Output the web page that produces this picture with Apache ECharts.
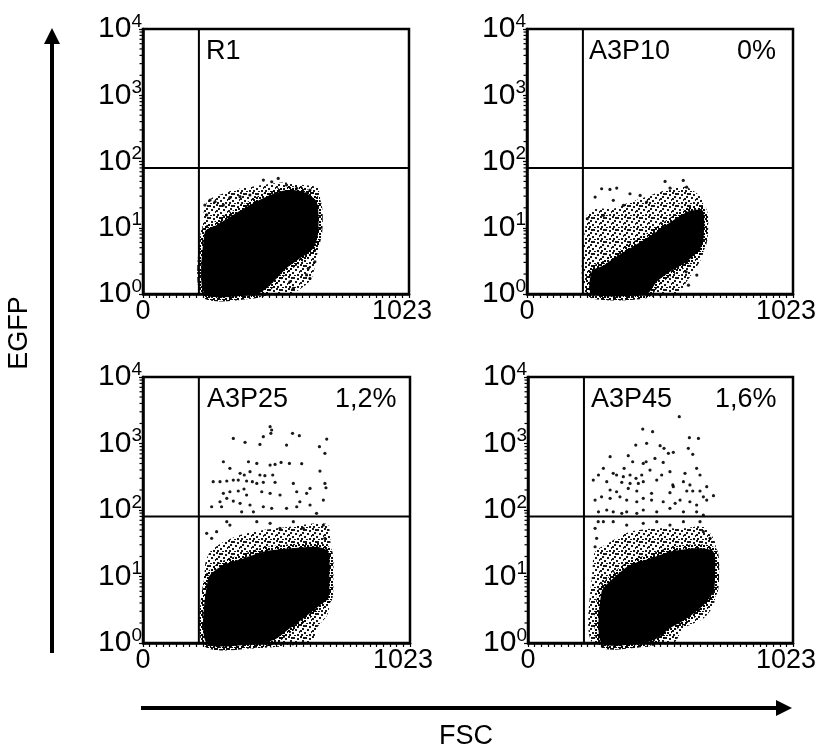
<!DOCTYPE html>
<html><head><meta charset="utf-8">
<script src="https://cdn.jsdelivr.net/npm/echarts@6/dist/echarts.min.js"></script>
<style>html,body{margin:0;padding:0;background:#fff}#c{width:821px;height:749px}</style>
</head><body><div id="c"></div>
<script>
// ---------------- data ----------------
const panelNames = ['R1', 'A3P10', 'A3P25', 'A3P45'];
const panelPercents = ['', '0%', '1,2%', '1,6%'];
const fscRange = [0, 1023];          // x axis (FSC, linear channels)
const egfpRange = [1, 10000];        // y axis (EGFP, log)
const gateFSC = [215, 215, 214, 216];
const gateEGFP = [80, 80, 80, 80];
const axisTitleX = 'FSC';
const axisTitleY = 'EGFP';

// dense core outline of each event cloud  [FSC, EGFP]
const core1 = [[238,1],[238,8.7],[283,11],[347,15.6],[411,22],[475,29.4],[552,37],[616,35],[668,24.7],[674,8.7],[655,4.9],[604,3.45],[552,2.44],[514,1.72],[475,1.22],[437,1]];
const core2 = [[249,1],[249,2.2],[294,2.7],[332,3.4],[384,4.6],[448,6.5],[512,9.5],[576,14],[627,18],[676,18],[680,7.7],[666,4.86],[614,3.06],[550,2.16],[499,1.53],[460,1]];
const core3 = [[244,1],[250,9.4],[308,14.9],[384,18.7],[461,23.6],[563,26.5],[665,28],[710,23.6],[714,9.4],[710,4.7],[678,3.7],[614,2.34],[563,1.66],[512,1.17],[461,1]];
const core4 = [[284,1],[284,5.9],[329,9.4],[394,14.9],[471,18.7],[548,23.6],[651,26.5],[716,23.6],[722,9.4],[716,5.9],[677,3.7],[613,2.34],[548,1.66],[497,1.17],[445,1]];

// sparser halo outline around each cloud
const halo1 = [[232,1],[232,15.6],[251,26],[309,33],[373,39],[475,45],[540,48],[616,44],[674,39],[683,9.8],[674,4.9],[649,1.72],[616,1.29],[565,1]];
const halo2 = [[230,1],[230,15.4],[268,19.4],[332,19.4],[396,24.4],[473,30.8],[550,38.8],[614,41],[672,27.4],[685,9.7],[676,3.86],[640,2.16],[614,1.53],[576,1]];
const halo3 = [[238,1],[238,14.9],[257,23.6],[308,33],[372,42],[461,50],[563,56],[665,63],[710,59],[719,23.6],[719,4.7],[706,2.64],[665,1.66],[646,1]];
const halo4 = [[250,1],[250,14.9],[259,23.6],[317,33],[394,47],[497,53],[600,53],[677,56],[722,33],[728,7.4],[716,3.7],[677,2.34],[600,1.66],[561,1]];

// individual scattered events
const dots1 = [[258,26.2],[277,24.7],[309,22],[334,28.4],[373,29.4],[411,31.2],[463,52.5],[495,49.5],[520,55.6],[552,44.2],[591,39.4],[629,33],[642,37],[238,22],[245,15.6],[629,1.94],[642,1.72],[636,2.44],[661,3.07],[681,9.8],[565,1.53],[578,1.22]];
const dots2 = [[262,29],[287,38.8],[319,37.9],[345,39.7],[396,32.6],[332,25.9],[531,50],[601,51.8],[614,41],[550,39.7],[435,30.8],[460,24.4],[621,1.36],[612,2.16],[653,1.93],[232,13.7],[294,15.4],[371,21.8]];
const dots3 = [[487,1790],[493,1596],[490,1420],[461,1265],[573,1420],[599,1310],[704,1167],[346,1194],[391,1040],[448,970],[550,948],[676,895],[697,711],[308,532],[404,532],[436,502],[487,474],[506,485],[529,520],[561,502],[608,497],[678,385],[333,423],[372,356],[388,336],[410,377],[448,336],[467,328],[497,336],[269,267],[295,267],[321,273],[346,282],[365,282],[397,273],[419,267],[436,251],[461,261],[506,261],[576,251],[640,211],[697,251],[701,216],[308,178],[333,188],[365,193],[387,207],[397,168],[455,188],[487,178],[525,168],[589,188],[627,178],[691,141],[295,133],[321,150],[346,136],[372,126],[410,119],[423,94],[461,112],[493,106],[550,106],[601,133],[640,119],[589,112],[301,112],[263,112],[378,94],[665,89],[244,44.6],[282,47.2],[333,59.4],[321,66.7],[436,66.7],[487,63],[525,53],[576,66.7],[614,53],[691,59.4],[697,37.5],[263,37.5]];
const dots4 = [[584,2530],[443,1650],[481,1505],[623,1222],[658,1194],[416,948],[458,1005],[510,927],[525,845],[542,711],[561,736],[619,845],[636,687],[387,656],[317,634],[456,532],[445,502],[490,597],[522,520],[404,532],[371,423],[291,423],[329,356],[342,336],[368,317],[394,336],[417,299],[439,336],[445,267],[471,399],[516,336],[548,377],[606,356],[651,423],[664,336],[272,336],[252,282],[304,267],[362,261],[394,251],[426,251],[497,282],[561,224],[600,267],[625,238],[690,224],[559,238],[317,200],[342,188],[387,211],[420,193],[477,178],[548,182],[613,193],[636,193],[664,193],[677,158],[716,164],[259,141],[284,158],[317,150],[355,158],[381,141],[420,133],[445,150],[477,141],[522,133],[568,126],[587,141],[625,133],[651,119],[690,141],[272,94],[304,100],[329,94],[362,89],[381,94],[420,89],[445,100],[497,94],[548,106],[600,94],[651,94],[677,84],[259,53],[265,37.5],[259,28],[291,66.7],[329,66.7],[381,59.4],[445,63],[497,66.7],[548,59.4],[600,66.7],[664,66.7],[677,47.2],[703,37.5],[271,66.7]];

// ---------------- chart ----------------
const FONT = '"Liberation Sans", Arial, Helvetica, sans-serif';
const cores = [core1, core2, core3, core4];
const halos = [halo1, halo2, halo3, halo4];
const dots = [dots1, dots2, dots3, dots4];
const gridBoxes = [
  {left: 143, top: 29, width: 266, height: 265},
  {left: 527, top: 29, width: 266, height: 265},
  {left: 143, top: 377, width: 267, height: 266},
  {left: 528, top: 377, width: 265, height: 266}
];
const annotTop = [53, 53, 401, 401];
const nameLeft = [206, 589, 207, 591];
const pctLeft = [0, 737, 335, 715];

// speckle textures (style only)
function speckle(pts, alpha) {
  const c = document.createElement('canvas');
  c.width = 12; c.height = 12;
  const g = c.getContext('2d');
  g.fillStyle = 'rgba(0,0,0,' + alpha + ')';
  pts.forEach(p => g.fillRect(p[0], p[1], 2, 2));
  return c;
}
const sparseTex = speckle([[0,0],[5,1],[9,2],[2,4],[7,5],[11,7],[4,8],[9,10],[1,10],[6,11],[0,6],[3,1]], 0.9);
const denseTex = speckle([[0,0],[5,1],[9,2],[2,4],[7,5],[11,7],[4,8],[9,10],[1,10],[6,11],[0,6],[3,1],
                          [7,0],[10,4],[4,5],[1,7],[7,8],[3,11],[10,0],[5,3],[8,11],[2,9]], 0.95);

const minorMult = [2,3,4,5,6,7,8,9];
const minorVals = [];
[1,10,100,1000].forEach(d => minorMult.forEach(m => minorVals.push([0, d*m])));

function polygonSeries(i, pts, style, z) {
  return {
    type: 'custom', xAxisIndex: i, yAxisIndex: i, coordinateSystem: 'cartesian2d',
    silent: true, z: z, data: pts,
    renderItem: (params, api) => {
      if (params.dataIndex !== 0) return null;
      return { type: 'polygon', shape: { points: pts.map(v => api.coord(v)), smooth: 0.25 }, style: style };
    }
  };
}

const option = { animation: false, backgroundColor: '#fff', grid: [], xAxis: [], yAxis: [], series: [], graphic: [] };

for (let i = 0; i < 4; i++) {
  option.grid.push(Object.assign({ show: true, borderColor: '#000', borderWidth: 2.5, backgroundColor: 'transparent' }, gridBoxes[i]));
  option.xAxis.push({
    gridIndex: i, type: 'value', min: fscRange[0], max: fscRange[1], interval: fscRange[1],
    axisLine: { show: true, onZero: false, lineStyle: { color: '#000', width: 2.5 } },
    axisTick: { show: true, length: 4, lineStyle: { color: '#000', width: 1.2 } },
    minorTick: { show: true, splitNumber: 40, length: 4, lineStyle: { color: '#000', width: 1.2 } },
    splitLine: { show: false }, minorSplitLine: { show: false },
    axisLabel: {
      show: true, color: '#000', fontSize: 27, fontFamily: FONT, margin: 4,
      formatter: v => v === fscRange[0] ? String(v) : '{r|' + v + '}',
      rich: { r: { fontSize: 27, fontFamily: FONT, color: '#000', padding: [0, 14, 0, 0] } }
    }
  });
  option.yAxis.push({
    gridIndex: i, type: 'log', logBase: 10, min: egfpRange[0], max: egfpRange[1],
    axisLine: { show: true, onZero: false, lineStyle: { color: '#000', width: 2.5 } },
    axisTick: { show: true, length: 4, lineStyle: { color: '#000', width: 1.2 } },
    splitLine: { show: false },
    axisLabel: {
      show: true, margin: 1, color: '#000', fontFamily: FONT,
      formatter: v => '{b|10}{s|' + Math.round(Math.log10(v)) + '}',
      rich: {
        b: { fontSize: 30, lineHeight: 34, fontFamily: FONT, color: '#000' },
        s: { fontSize: 19, lineHeight: 19, verticalAlign: 'top', fontFamily: FONT, color: '#000' }
      }
    }
  });
  option.series.push(polygonSeries(i, halos[i], { fill: { image: sparseTex, repeat: 'repeat' }, stroke: null }, 1));
  option.series.push(polygonSeries(i, cores[i], { fill: '#000', stroke: { image: denseTex, repeat: 'repeat' }, lineWidth: 8 }, 2));
  option.series.push({
    type: 'scatter', xAxisIndex: i, yAxisIndex: i, data: dots[i], symbolSize: 3.2, silent: true, z: 3,
    itemStyle: { color: '#000', opacity: 0.9 }
  });
  option.series.push({
    type: 'custom', xAxisIndex: i, yAxisIndex: i, coordinateSystem: 'cartesian2d', silent: true, z: 4,
    data: [[gateFSC[i], gateEGFP[i]]],
    renderItem: (params, api) => {
      const gx = api.value(0), gy = api.value(1);
      const t = api.coord([gx, egfpRange[1]]), b = api.coord([gx, egfpRange[0]]);
      const l = api.coord([fscRange[0], gy]), r = api.coord([fscRange[1], gy]);
      return { type: 'group', children: [
        { type: 'line', shape: { x1: t[0], y1: t[1], x2: b[0], y2: b[1] }, style: { stroke: '#000', lineWidth: 2 } },
        { type: 'line', shape: { x1: l[0], y1: l[1], x2: r[0], y2: r[1] }, style: { stroke: '#000', lineWidth: 2 } }
      ] };
    }
  });
  option.series.push({
    type: 'custom', xAxisIndex: i, yAxisIndex: i, coordinateSystem: 'cartesian2d', silent: true, z: 4, clip: false,
    data: minorVals,
    renderItem: (params, api) => {
      const p = api.coord([api.value(0), api.value(1)]);
      return { type: 'line', shape: { x1: p[0] - 3.5, y1: p[1], x2: p[0], y2: p[1] }, style: { stroke: '#000', lineWidth: 1.2 } };
    }
  });
  option.graphic.push({ type: 'text', left: nameLeft[i], top: annotTop[i] - 15, style: { text: panelNames[i], font: '27px ' + FONT, fill: '#000' } });
  if (panelPercents[i]) {
    option.graphic.push({ type: 'text', left: pctLeft[i], top: annotTop[i] - 15, style: { text: panelPercents[i], font: '27px ' + FONT, fill: '#000' } });
  }
}

// big axis arrows and titles
option.graphic.push(
  { type: 'line', shape: { x1: 52, y1: 653, x2: 52, y2: 40 }, style: { stroke: '#000', lineWidth: 4 } },
  { type: 'polygon', shape: { points: [[44, 44], [60, 44], [52, 28]] }, style: { fill: '#000' } },
  { type: 'line', shape: { x1: 141, y1: 708, x2: 780, y2: 708 }, style: { stroke: '#000', lineWidth: 4 } },
  { type: 'polygon', shape: { points: [[776, 700], [776, 716], [792, 708]] }, style: { fill: '#000' } },
  { type: 'text', x: 20, y: 333, rotation: Math.PI / 2, style: { text: axisTitleY, font: '27px ' + FONT, fill: '#000', align: 'center', verticalAlign: 'middle' } },
  { type: 'text', x: 466, y: 737, style: { text: axisTitleX, font: '27px ' + FONT, fill: '#000', align: 'center', verticalAlign: 'middle' } }
);

const chart = echarts.init(document.getElementById('c'), null, { renderer: 'canvas' });
chart.setOption(option);
</script>
</body></html>
